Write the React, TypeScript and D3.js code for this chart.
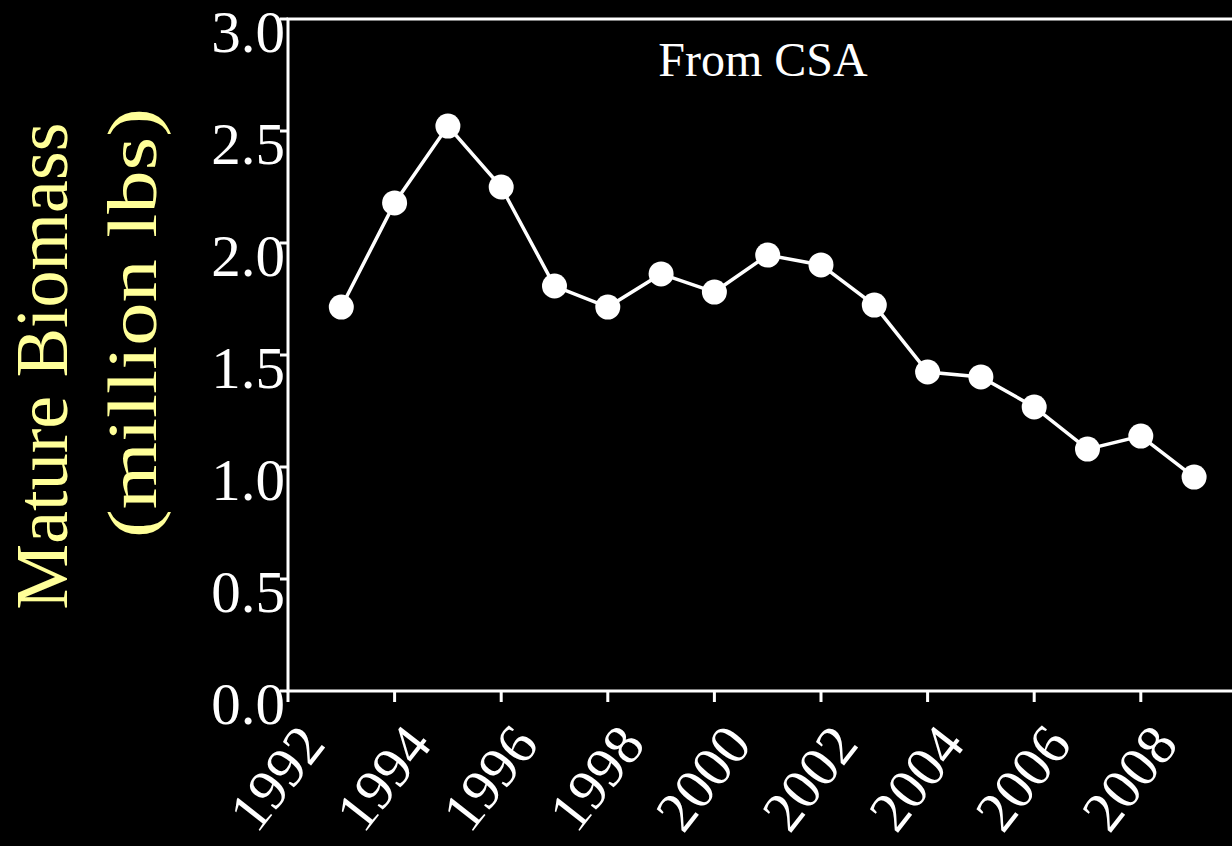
import React, { useEffect, useRef } from "react";
import * as d3 from "d3";

const years = [1993, 1994, 1995, 1996, 1997, 1998, 1999, 2000, 2001, 2002, 2003, 2004, 2005, 2006, 2007, 2008, 2009];
const biomass = [1.714, 2.179, 2.522, 2.25, 1.808, 1.714, 1.862, 1.781, 1.946, 1.902, 1.723, 1.424, 1.402, 1.268, 1.08, 1.138, 0.955];
const xTicks = [1992, 1994, 1996, 1998, 2000, 2002, 2004, 2006, 2008];
const yTicks = [0, 0.5, 1.0, 1.5, 2.0, 2.5, 3.0];
const title = "From CSA";
const yTitle1 = "Mature Biomass";
const yTitle2 = "(million lbs)";

const W = 1232;
const H = 846;
const FONT = "'Liberation Serif', 'Times New Roman', serif";

export default function App() {
  const ref = useRef<SVGSVGElement>(null);
  useEffect(() => {
    const svg = d3.select(ref.current);
    svg.selectAll("*").remove();
    const x = d3.scaleLinear().domain([1992, 2010]).range([288, 1247.4]);
    const y = d3.scaleLinear().domain([0, 3]).range([691, 19]);

    svg.append("rect").attr("width", W).attr("height", H).attr("fill", "#000");

    // frame
    svg.append("rect")
      .attr("x", x(1992)).attr("y", y(3))
      .attr("width", x(2010) - x(1992)).attr("height", y(0) - y(3))
      .attr("fill", "none").attr("stroke", "#fff").attr("stroke-width", 3);

    // y ticks
    const yg = svg.append("g");
    yTicks.forEach((t) => {
      yg.append("line").attr("x1", x(1992) - 8).attr("x2", x(1992)).attr("y1", y(t)).attr("y2", y(t))
        .attr("stroke", "#fff").attr("stroke-width", 3);
      yg.append("text").attr("x", 285).attr("y", y(t) + 33)
        .attr("text-anchor", "end").attr("fill", "#fff")
        .attr("font-family", FONT).attr("font-size", 59)
        .text(d3.format(".1f")(t));
    });

    // x ticks
    const xg = svg.append("g");
    xTicks.forEach((t) => {
      xg.append("line").attr("x1", x(t)).attr("x2", x(t)).attr("y1", y(0)).attr("y2", y(0) + 11)
        .attr("stroke", "#fff").attr("stroke-width", 3);
      xg.append("text")
        .attr("transform", `translate(${x(t) + 39},${745}) rotate(-52)`)
        .attr("text-anchor", "end").attr("fill", "#fff")
        .attr("font-family", FONT).attr("font-size", 57)
        .text(String(t));
    });

    // line
    const line = d3.line<number>().x((_, i) => x(years[i])).y((d) => y(d));
    svg.append("path").datum(biomass).attr("d", line).attr("fill", "none")
      .attr("stroke", "#fff").attr("stroke-width", 3.5);
    svg.append("g").selectAll("circle").data(biomass).join("circle")
      .attr("cx", (_, i) => x(years[i])).attr("cy", (d) => y(d)).attr("r", 12.5).attr("fill", "#fff");

    svg.append("text").attr("x", 763).attr("y", 76).attr("text-anchor", "middle")
      .attr("fill", "#fff").attr("font-family", FONT).attr("font-size", 48).text(title);

    svg.append("text").attr("transform", `translate(67,366) rotate(-90)`).attr("text-anchor", "middle")
      .attr("fill", "#ffff99").attr("font-family", FONT).attr("font-size", 74)
      .attr("textLength", 487).attr("lengthAdjust", "spacingAndGlyphs").text(yTitle1);
    svg.append("text").attr("transform", `translate(156,323) rotate(-90)`).attr("text-anchor", "middle")
      .attr("fill", "#ffff99").attr("font-family", FONT).attr("font-size", 70)
      .attr("textLength", 430).attr("lengthAdjust", "spacingAndGlyphs").text(yTitle2);
  }, []);

  return (
    <div style={{ position: "fixed", left: 0, top: 0, width: W, height: H, background: "#000" }}>
      <svg ref={ref} width={W} height={H} style={{ display: "block" }} />
    </div>
  );
}
